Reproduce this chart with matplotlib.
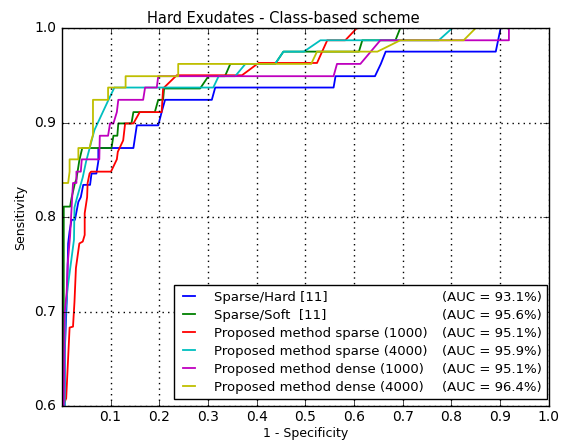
import matplotlib
matplotlib.use("Agg")
import matplotlib.pyplot as plt
from matplotlib.lines import Line2D

plt.style.use("classic")

# ROC curves (1 - specificity, sensitivity)
names = ["Sparse/Hard [11]", "Sparse/Soft  [11]", "Proposed method sparse (1000)",
         "Proposed method sparse (4000)", "Proposed method dense (1000)",
         "Proposed method dense (4000)"]
aucs = ["(AUC = 93.1%)", "(AUC = 95.6%)", "(AUC = 95.1%)",
        "(AUC = 95.9%)", "(AUC = 95.1%)", "(AUC = 96.4%)"]
colors = ["b", "g", "r", "c", "m", "y"]

hard_fpr = [0, 0.006, 0.006, 0.011, 0.013, 0.016, 0.020, 0.027, 0.034, 0.039, 0.044, 0.058, 0.061,
            0.071, 0.075, 0.075, 0.147, 0.154, 0.198, 0.205, 0.212, 0.308, 0.315, 0.558, 0.562,
            0.643, 0.655, 0.665, 0.891, 0.901, 1.0]
hard_tpr = [0, 0.60, 0.656, 0.723, 0.772, 0.785, 0.797, 0.797, 0.816, 0.821, 0.834, 0.834, 0.846,
            0.846, 0.859, 0.873, 0.873, 0.897, 0.897, 0.911, 0.924, 0.924, 0.937, 0.937, 0.949,
            0.949, 0.962, 0.975, 0.975, 1.0, 1.0]

soft_fpr = [0, 0.004, 0.004, 0.017, 0.020, 0.027, 0.030, 0.036, 0.042, 0.102, 0.106, 0.114, 0.116,
            0.143, 0.147, 0.191, 0.198, 0.208, 0.210, 0.284, 0.301, 0.335, 0.346, 0.438, 0.455,
            0.610, 0.617, 0.685, 0.695, 1.0]
soft_tpr = [0, 0.60, 0.811, 0.811, 0.820, 0.836, 0.840, 0.860, 0.873, 0.873, 0.886, 0.886, 0.899,
            0.899, 0.911, 0.911, 0.924, 0.924, 0.936, 0.936, 0.949, 0.949, 0.962, 0.962, 0.975,
            0.975, 0.987, 0.987, 1.0, 1.0]

ps1000_fpr = [0, 0.002, 0.009, 0.016, 0.023, 0.026, 0.029, 0.036, 0.043, 0.047, 0.047, 0.052,
              0.053, 0.057, 0.060, 0.101, 0.113, 0.115, 0.126, 0.130, 0.147, 0.160, 0.205, 0.208,
              0.236, 0.370, 0.404, 0.524, 0.545, 0.582, 0.606, 1.0]
ps1000_tpr = [0, 0.60, 0.608, 0.683, 0.684, 0.710, 0.746, 0.772, 0.774, 0.781, 0.804, 0.821,
              0.836, 0.846, 0.848, 0.848, 0.861, 0.869, 0.881, 0.899, 0.899, 0.911, 0.911, 0.936,
              0.950, 0.950, 0.963, 0.963, 0.987, 0.987, 1.0, 1.0]

ps4000_fpr = [0, 0.006, 0.006, 0.008, 0.012, 0.025, 0.026, 0.031, 0.043, 0.050, 0.067, 0.095,
              0.108, 0.311, 0.322, 0.356, 0.377, 0.438, 0.455, 0.497, 0.531, 0.774, 0.802, 1.0]
ps4000_tpr = [0, 0.60, 0.657, 0.702, 0.725, 0.776, 0.810, 0.820, 0.842, 0.859, 0.892, 0.923,
              0.937, 0.937, 0.949, 0.949, 0.962, 0.962, 0.975, 0.975, 0.987, 0.987, 1.0, 1.0]

pd1000_fpr = [0, 0.004, 0.006, 0.010, 0.012, 0.017, 0.019, 0.023, 0.030, 0.030, 0.039, 0.041,
              0.077, 0.078, 0.095, 0.099, 0.106, 0.113, 0.116, 0.167, 0.171, 0.195, 0.198, 0.558,
              0.565, 0.613, 0.654, 0.918, 0.918, 1.0]
pd1000_tpr = [0, 0.60, 0.70, 0.72, 0.75, 0.78, 0.80, 0.836, 0.836, 0.848, 0.848, 0.861,
              0.861, 0.886, 0.886, 0.899, 0.899, 0.911, 0.924, 0.924, 0.937, 0.937, 0.949, 0.949,
              0.962, 0.962, 0.987, 0.987, 1.0, 1.0]

pd4000_fpr = [0, 0.0, 0.013, 0.016, 0.016, 0.034, 0.034, 0.057, 0.060, 0.064, 0.064, 0.095,
              0.095, 0.131, 0.131, 0.239, 0.239, 0.512, 0.524, 0.648, 0.695, 0.825, 0.850, 1.0]
pd4000_tpr = [0, 0.836, 0.836, 0.848, 0.861, 0.861, 0.873, 0.873, 0.880, 0.887, 0.924, 0.924,
              0.937, 0.937, 0.949, 0.949, 0.962, 0.962, 0.975, 0.975, 0.987, 0.987, 1.0, 1.0]

curves = [(hard_fpr, hard_tpr), (soft_fpr, soft_tpr), (ps1000_fpr, ps1000_tpr),
          (ps4000_fpr, ps4000_tpr), (pd1000_fpr, pd1000_tpr), (pd4000_fpr, pd4000_tpr)]

fig = plt.figure(figsize=(5.67, 4.43), dpi=100, facecolor="white")
ax = fig.add_axes([0.109, 0.0835, 0.859, 0.8533])
for (fpr, tpr), c in zip(curves, colors):
    ax.plot(fpr, tpr, color=c, linewidth=1.3)

ax.set_xlim(0, 1)
ax.set_ylim(0.6, 1.0)
ax.set_xticks([0.1, 0.2, 0.3, 0.4, 0.5, 0.6, 0.7, 0.8, 0.9, 1.0])
ax.set_yticks([0.6, 0.7, 0.8, 0.9, 1.0])
ax.tick_params(labelsize=10)
ax.tick_params(axis="x", pad=3)
ax.grid(True, color="k", linestyle=":", linewidth=1.0)
# title is centred on the figure, not on the axes
fig.text(0.5, 0.9488, "Hard Exudates - Class-based scheme", fontsize=10.5,
         ha="center", va="baseline")
ax.set_xlabel("1 - Specificity", fontsize=9, labelpad=2)
ax.set_ylabel("Sensitivity", fontsize=9)

# two column legend: names with line handles, AUC values with blank handles
handles = [Line2D([], [], color=c, linewidth=1.3) for c in colors]
blanks = [Line2D([], [], linestyle="none") for _ in aucs]
ax.legend(handles + blanks, names + aucs, ncol=2, loc="lower right", fontsize=9.5,
          handlelength=1.5, handletextpad=1.1, columnspacing=-1.5,
          labelspacing=0.38, borderaxespad=0, bbox_to_anchor=(0.996, 0.0185),
          frameon=True, fancybox=False)

fig.savefig("out.png", dpi=100, facecolor="white")
